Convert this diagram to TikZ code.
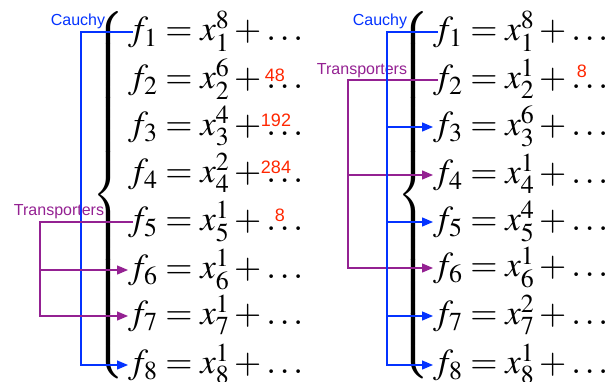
\documentclass[tikz,border=0pt]{standalone}
\usepackage{mathptmx}
\usepackage[no-math]{fontspec}
\newfontfamily\hv{Liberation Sans}
\usetikzlibrary{arrows.meta}
\definecolor{cblue}{RGB}{4,51,255}
\definecolor{cpurple}{RGB}{148,33,146}
\definecolor{cred}{RGB}{255,38,0}
\tikzset{
  eq/.style={anchor=west,inner sep=0pt,font=\fontsize{35}{40}\selectfont},
  lbl/.style={inner sep=0pt,font=\hv\fontsize{16}{18}\selectfont},
  num/.style={inner sep=0pt,text=cred,font=\hv\fontsize{18}{20}\selectfont},
  cau/.style={draw=cblue,line width=1.3pt},
  tra/.style={draw=cpurple,line width=1.3pt},
  tip/.style={-{Triangle[length=11pt,width=9pt]}},
  bracebox/.style={inner sep=0pt,font=\fontsize{36}{40}\selectfont}
}
\newcommand{\bigbrace}{$\delimitershortfall=0pt\left\{\vcenter{\hbox{\rule{0pt}{360pt}}}\right.$}
% equation whose box is centred on the math axis
\newcommand{\eqn}[1]{$\vcenter{\hbox{\rule{0pt}{80pt}}}#1$}
\begin{document}
\begin{tikzpicture}[x=1pt,y=-1pt]
\useasboundingbox (0,0) rectangle (611,381);
% ---------- left panel ----------
\node[bracebox] (bL) at (109,195) {\bigbrace};
\node[eq] (a1) at (128,32)  {\eqn{f_1=x_1^8+\ldots}};
\node[eq] (a2) at (128,80)  {\eqn{f_2=x_2^6+\ldots}};
\node[eq] (a3) at (128,127) {\eqn{f_3=x_3^4+\ldots}};
\node[eq] (a4) at (128,174) {\eqn{f_4=x_4^2+\ldots}};
\node[eq] (a5) at (128,222) {\eqn{f_5=x_5^1+\ldots}};
\node[eq] (a6) at (128,270) {\eqn{f_6=x_6^1+\ldots}};
\node[eq] (a7) at (128,316) {\eqn{f_7=x_7^1+\ldots}};
\node[eq] (a8) at (128,365) {\eqn{f_8=x_8^1+\ldots}};
\node[num] (n2) at (275,75)  {48};
\node[num] (n3) at (276,120) {192};
\node[num] (n4) at (276,167) {284};
\node[num] (n5) at (280,215) {8};
\node[lbl,text=cblue] (cL) at (78,21) {Cauchy};
\node[lbl,text=cpurple] (tL) at (59,212) {Transporters};
\coordinate (cxL) at (81,0);
\coordinate (txL) at (40,0);
\draw[cau,tip] ([xshift=5pt]a1.west) -- (a1.west -| cxL) |- (a8.west);
\draw[tra,tip] ([xshift=5pt]a5.west) -- (a5.west -| txL) |- (a7.west);
\draw[tra,tip] (a6.west -| txL) -- (a6.west);
% ---------- right panel ----------
\node[bracebox] (bR) at (414,195) {\bigbrace};
\node[eq] (b1) at (433,32)  {\eqn{f_1=x_1^8+\ldots}};
\node[eq] (b2) at (433,80)  {\eqn{f_2=x_2^1+\ldots}};
\node[eq] (b3) at (433,127) {\eqn{f_3=x_3^6+\ldots}};
\node[eq] (b4) at (433,175) {\eqn{f_4=x_4^1+\ldots}};
\node[eq] (b5) at (433,222) {\eqn{f_5=x_5^4+\ldots}};
\node[eq] (b6) at (433,268) {\eqn{f_6=x_6^1+\ldots}};
\node[eq] (b7) at (433,316) {\eqn{f_7=x_7^2+\ldots}};
\node[eq] (b8) at (433,365) {\eqn{f_8=x_8^1+\ldots}};
\node[num] (m2) at (582,71) {8};
\node[lbl,text=cblue] (cR) at (380,21) {Cauchy};
\node[lbl,text=cpurple] (tR) at (362,71) {Transporters};
\coordinate (cxR) at (387,0);
\coordinate (txR) at (348,0);
\draw[tra,tip] ([xshift=5pt]b2.west) -- (b2.west -| txR) |- (b6.west);
\draw[tra,tip] (b4.west -| txR) -- (b4.west);
\draw[cau,tip] ([xshift=5pt]b1.west) -- (b1.west -| cxR) |- (b8.west);
\draw[cau,tip] (b3.west -| cxR) -- (b3.west);
\draw[cau,tip] (b5.west -| cxR) -- (b5.west);
\draw[cau,tip] (b7.west -| cxR) -- (b7.west);
\end{tikzpicture}
\end{document}
